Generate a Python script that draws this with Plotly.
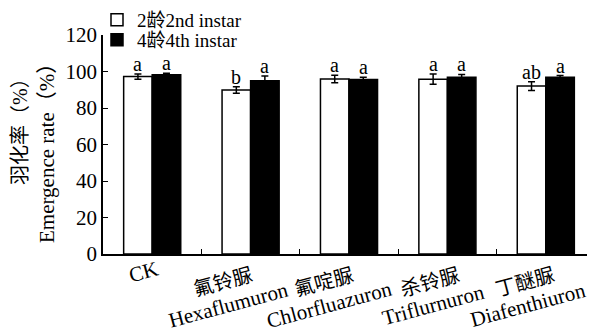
import plotly.graph_objects as go

categories = ["CK", "Hexaflumuron", "Chlorfluazuron", "Triflurnuron", "Diafenthiuron"]
cn_names = ["", "氟铃脲", "氟啶脲", "杀铃脲", "丁醚脲"]
v2 = [97.2, 89.9, 95.9, 95.8, 92.0]
e2 = [1.4, 1.8, 2.0, 2.8, 2.4]
v4 = [98.2, 95.0, 95.6, 96.8, 96.8]
e4 = [0.9, 2.6, 1.3, 1.6, 1.0]
let2 = ["a", "b", "a", "a", "ab"]
let4 = ["a", "a", "a", "a", "a"]
yticks = [0, 20, 40, 60, 80, 100, 120]

FONT = "Liberation Serif, Noto Sans CJK SC, serif"
OFF = 8  # page body margin of the html page
W, H = 595 - OFF, 333 - OFF
ML, MR, MT = 103 - OFF, 0, 35 - OFF
PH = 219
MB = H - MT - PH
PW = W - ML - MR
BARGAP = 0.42
FS = 20

fig = go.Figure()
fig.add_trace(go.Bar(
    x=categories, y=v2, name="2龄2nd instar", legend="legend",
    marker=dict(color="white", line=dict(color="black", width=1.5)),
    error_y=dict(type="data", array=e2, color="black", thickness=1.5, width=3.5),
))
fig.add_trace(go.Bar(
    x=categories, y=v4, name="4龄4th instar", legend="legend2",
    marker=dict(color="black", line=dict(color="black", width=1.5)),
    error_y=dict(type="data", array=e4, color="black", thickness=1.5, width=3.5),
))

cat_w = PW / len(categories)
bar_w = cat_w * (1 - BARGAP) / 2
cn_dx = [0, -28, -25, -17, -21]
en_dx = [-9, -22, -20, -14, -18]
ann = []
for i, c in enumerate(categories):
    ann.append(dict(x=c, y=v2[i] + e2[i], xref="x", yref="y", text=let2[i],
                    showarrow=False, yanchor="bottom", xshift=-bar_w / 2, yshift=-3,
                    font=dict(size=FS, family=FONT, color="black")))
    ann.append(dict(x=c, y=v4[i] + e4[i], xref="x", yref="y", text=let4[i],
                    showarrow=False, yanchor="bottom", xshift=bar_w / 2, yshift=-3,
                    font=dict(size=FS, family=FONT, color="black")))
    if cn_names[i]:
        ann.append(dict(x=c, y=0, xref="x", yref="paper", text=cn_names[i],
                        showarrow=False, textangle=-15, xanchor="center", yanchor="middle",
                        xshift=cn_dx[i], yshift=-28,
                        font=dict(size=FS, family=FONT, color="black")))
        ann.append(dict(x=c, y=0, xref="x", yref="paper", text=c,
                        showarrow=False, textangle=-15, xanchor="center", yanchor="middle",
                        xshift=en_dx[i], yshift=-51,
                        font=dict(size=21, family=FONT, color="black")))
    else:
        ann.append(dict(x=c, y=0, xref="x", yref="paper", text=c,
                        showarrow=False, textangle=-15, xanchor="center", yanchor="middle",
                        xshift=en_dx[i], yshift=-18,
                        font=dict(size=21, family=FONT, color="black")))

# y axis titles (page centres: (20,127) and (47,148))
ann.append(dict(x=0, y=(254 - 127) / PH, xref="paper", yref="paper", text="羽化率（%）",
                showarrow=False, textangle=-90, xanchor="center", yanchor="middle",
                xshift=20 - 103, font=dict(size=FS, family=FONT, color="black")))
ann.append(dict(x=0, y=(254 - 148) / PH, xref="paper", yref="paper", text="Emergence rate（%）",
                showarrow=False, textangle=-90, xanchor="center", yanchor="middle",
                xshift=47 - 103, font=dict(size=21, family=FONT, color="black")))

leg_x = (89 - ML) / PW
leg_common = dict(x=leg_x, xanchor="left", yanchor="middle", bgcolor="rgba(0,0,0,0)",
                  font=dict(size=19, family=FONT, color="black"), itemwidth=30,
                  borderwidth=0)
fig.update_layout(
    width=W, height=H,
    margin=dict(l=ML, r=MR, t=MT, b=MB, autoexpand=False),
    paper_bgcolor="white", plot_bgcolor="white",
    barmode="group", bargap=BARGAP, bargroupgap=0,
    font=dict(family=FONT, size=FS, color="black"),
    showlegend=True,
    legend=dict(y=(254 - 20) / PH, **leg_common),
    legend2=dict(y=(254 - 40) / PH, **leg_common),
    annotations=ann,
)
fig.update_xaxes(showline=True, linecolor="black", linewidth=1.5,
                 ticks="inside", ticklen=5, tickcolor="black", tickwidth=1.2,
                 tickson="boundaries", showticklabels=False, showgrid=False,
                 zeroline=False)
fig.update_yaxes(range=[0, 120], tickvals=yticks, showline=True, linecolor="black",
                 linewidth=1.5, ticks="inside", ticklen=5, tickcolor="black",
                 tickwidth=1.2, showgrid=False, zeroline=False,
                 tickfont=dict(size=21, family=FONT, color="black"))

fig.write_html("out.html")
